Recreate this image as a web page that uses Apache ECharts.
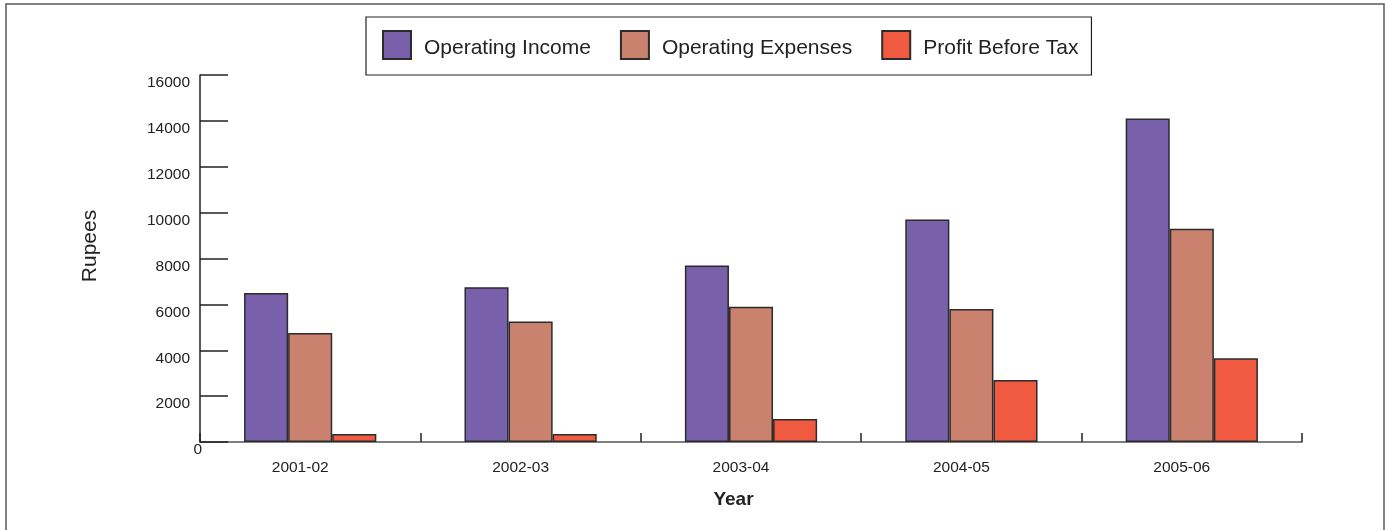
<!DOCTYPE html>
<html>
<head>
<meta charset="utf-8">
<style>
  html, body { margin: 0; padding: 0; background: #ffffff; }
  #chart { width: 1385px; height: 530px; }
</style>
<script src="https://cdn.jsdelivr.net/npm/echarts@6/dist/echarts.min.js"></script>
</head>
<body>
<div id="chart"></div>
<script>
// Yearly figures in rupees
const years = ['2001-02', '2002-03', '2003-04', '2004-05', '2005-06'];
const operatingIncome = [6500, 6750, 7700, 9700, 14100];
const operatingExpenses = [4750, 5250, 5900, 5800, 9300];
const profitBeforeTax = [350, 350, 1000, 2700, 3650];
const seriesNames = ['Operating Income', 'Operating Expenses', 'Profit Before Tax'];
const seriesColors = ['#7860AA', '#CA826E', '#F05A40'];

const FONT = 'Liberation Sans, Arial, sans-serif';
const chart = echarts.init(document.getElementById('chart'), null, { renderer: 'canvas' });

const barSeries = [operatingIncome, operatingExpenses, profitBeforeTax].map((values, i) => ({
  name: seriesNames[i],
  type: 'bar',
  data: values,
  barGap: '0%',
  barCategoryGap: '40%',
  itemStyle: { color: seriesColors[i], borderColor: '#2b2b2b', borderWidth: 1.5 }
}));

chart.setOption({
  animation: false,
  backgroundColor: '#ffffff',
  textStyle: { fontFamily: FONT },
  graphic: [{
    type: 'rect',
    shape: { x: 6, y: 4, width: 1378, height: 560 },
    style: { fill: 'none', stroke: '#5a5a5a', lineWidth: 1.5 },
    silent: true,
    z: -1
  }],
  legend: {
    left: 366,
    top: 17,
    padding: [13, 13, 15, 16],
    itemWidth: 28,
    itemHeight: 28,
    itemGap: 29,
    borderColor: '#222',
    borderWidth: 1.2,
    icon: 'rect',
    formatter: name => '{t|' + name + '}',
    textStyle: {
      fontFamily: FONT, fontSize: 21, color: '#222',
      rich: { t: { fontFamily: FONT, fontSize: 21, color: '#222', padding: [6, 0, 0, 8] } }
    },
    data: seriesNames
  },
  grid: { left: 200, right: 83, top: 75, bottom: 88, containLabel: false },
  xAxis: {
    type: 'category',
    data: years,
    name: 'Year',
    nameLocation: 'middle',
    nameGap: 48,
    nameTextStyle: { fontFamily: FONT, fontSize: 19, fontWeight: 'bold', color: '#222', padding: [0, 35, 0, 0] },
    axisLine: { show: true, lineStyle: { color: '#555', width: 1.5 } },
    axisTick: { show: true, alignWithLabel: false, interval: 0, inside: true, length: 9, lineStyle: { color: '#222', width: 1.5 } },
    axisLabel: { fontFamily: FONT, fontSize: 15.5, color: '#222', margin: 18, padding: [0, 20, 0, 0] },
    splitLine: { show: false }
  },
  yAxis: {
    type: 'value',
    min: 0,
    max: 16000,
    interval: 2000,
    name: 'Rupees',
    nameLocation: 'middle',
    nameRotate: 90,
    nameGap: 99,
    nameTextStyle: { fontFamily: FONT, fontSize: 21, color: '#222', padding: [0, 0, 0, 25] },
    axisLine: { show: true, lineStyle: { color: '#222', width: 1.5 } },
    axisTick: { show: true, inside: true, length: 28, lineStyle: { color: '#222', width: 1.5 } },
    splitLine: { show: false },
    axisLabel: {
      margin: -2,
      align: 'right',
      formatter: v => v === 0 ? '{z|0}' : '{n|' + v + '}',
      rich: {
        n: { fontFamily: FONT, fontSize: 15.5, color: '#222', padding: [16, 12, 0, 0] },
        z: { fontFamily: FONT, fontSize: 15.5, color: '#222', padding: [16, 0, 0, 0] }
      }
    }
  },
  series: barSeries
});
</script>
</body>
</html>
